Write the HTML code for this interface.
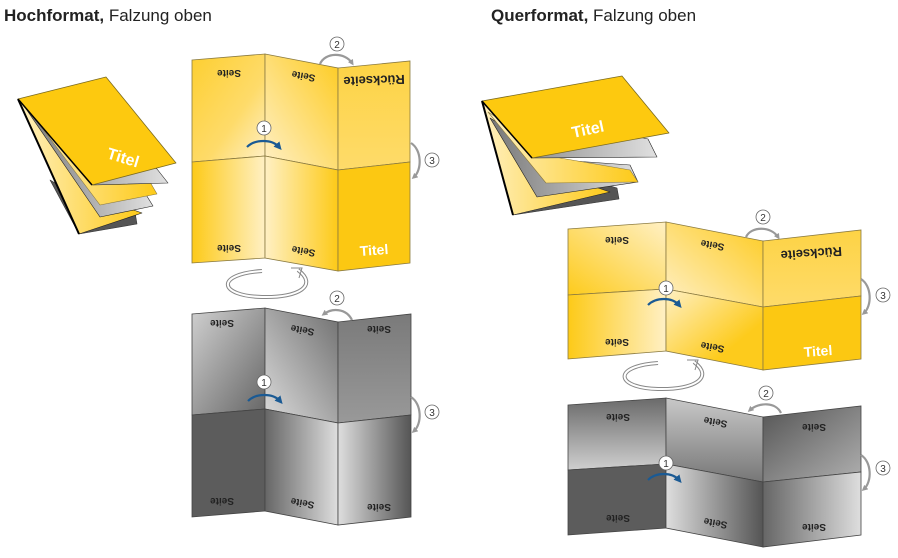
<!DOCTYPE html>
<html><head><meta charset="utf-8"><style>
html,body{margin:0;padding:0;background:#fff;}
svg{display:block;}
text{font-family:"Liberation Sans",sans-serif;}
.s{font-size:10px;font-weight:bold;fill:#222;}
.t{font-size:14px;font-weight:bold;fill:#fff;}
.tc{font-size:16px;font-weight:bold;fill:#fff;}
.r{font-size:13px;font-weight:bold;fill:#222;}
.n{font-size:10px;fill:#333;}
.pn{stroke:#8a7a40;stroke-width:0.8;}
.pg{stroke:#444;stroke-width:0.8;}
</style></head><body>
<svg width="898" height="558" viewBox="0 0 898 558" xmlns="http://www.w3.org/2000/svg">
<defs>
<marker id="ag" markerWidth="6" markerHeight="6" refX="3" refY="3" orient="auto" markerUnits="userSpaceOnUse"><path d="M0,0 L6,3 L0,6 z" fill="#999"/></marker>
<marker id="ab" markerWidth="8" markerHeight="8" refX="4" refY="4" orient="auto" markerUnits="userSpaceOnUse"><path d="M0,0 L8,4 L0,8 z" fill="#1a5a94"/></marker>
<linearGradient id="yR" x1="0" y1="0" x2="1" y2="0"><stop offset="0" stop-color="#fdca18"/><stop offset="1" stop-color="#fff0c4"/></linearGradient>
<linearGradient id="yL" x1="0" y1="0" x2="1" y2="0"><stop offset="0" stop-color="#fff0c4"/><stop offset="1" stop-color="#fdca18"/></linearGradient>
<linearGradient id="yTL" x1="0" y1="0" x2="1" y2="1"><stop offset="0" stop-color="#fdcf30"/><stop offset="0.6" stop-color="#fedb6a"/><stop offset="1" stop-color="#fff0c8"/></linearGradient>
<linearGradient id="yTM" x1="1" y1="0" x2="0" y2="1"><stop offset="0" stop-color="#fdcb20"/><stop offset="1" stop-color="#fff0c8"/></linearGradient>
<linearGradient id="yTR" x1="0" y1="0" x2="0" y2="1"><stop offset="0" stop-color="#fdd345"/><stop offset="1" stop-color="#fedb6a"/></linearGradient>
<linearGradient id="yD" x1="0" y1="1" x2="1" y2="0"><stop offset="0" stop-color="#fdcb1c"/><stop offset="1" stop-color="#fff0c4"/></linearGradient>
<linearGradient id="yD2" x1="0" y1="0" x2="1" y2="1"><stop offset="0" stop-color="#fff0c4"/><stop offset="0.7" stop-color="#fdcb1c"/></linearGradient>
<linearGradient id="gTL" x1="0" y1="0" x2="1" y2="1"><stop offset="0" stop-color="#d0d0d0"/><stop offset="1" stop-color="#666"/></linearGradient>
<linearGradient id="gTM" x1="1" y1="0" x2="0" y2="1"><stop offset="0" stop-color="#707070"/><stop offset="1" stop-color="#dcdcdc"/></linearGradient>
<linearGradient id="gTR" x1="0" y1="0" x2="0" y2="1"><stop offset="0" stop-color="#7a7a7a"/><stop offset="1" stop-color="#999"/></linearGradient>
<linearGradient id="gLR" x1="0" y1="0" x2="1" y2="0"><stop offset="0" stop-color="#666"/><stop offset="1" stop-color="#dedede"/></linearGradient>
<linearGradient id="gRL" x1="0" y1="0" x2="1" y2="0"><stop offset="0" stop-color="#dedede"/><stop offset="1" stop-color="#555"/></linearGradient>
<linearGradient id="gV" x1="0" y1="0" x2="0" y2="1"><stop offset="0" stop-color="#6a6a6a"/><stop offset="1" stop-color="#cfcfcf"/></linearGradient>
<linearGradient id="gV2" x1="0" y1="0" x2="0" y2="1"><stop offset="0" stop-color="#c8c8c8"/><stop offset="1" stop-color="#777"/></linearGradient>
<linearGradient id="gV3" x1="0" y1="0" x2="1" y2="1"><stop offset="0" stop-color="#555"/><stop offset="1" stop-color="#b0b0b0"/></linearGradient>
<linearGradient id="pg" x1="0" y1="0" x2="1" y2="0"><stop offset="0" stop-color="#777"/><stop offset="1" stop-color="#e0e0e0"/></linearGradient>
<linearGradient id="py" x1="0" y1="0" x2="1" y2="0"><stop offset="0" stop-color="#fff0c0"/><stop offset="1" stop-color="#fdca18"/></linearGradient>
</defs>

<text x="4" y="21" style="font-size:17px;fill:#222"><tspan font-weight="bold">Hochformat,</tspan> Falzung oben</text>
<text x="491" y="21" style="font-size:17px;fill:#222"><tspan font-weight="bold">Querformat,</tspan> Falzung oben</text>

<!-- left stack -->
<g stroke-linejoin="round">
<polygon points="50,180 79,234 137,224 135,212 110,215" fill="#555" stroke="#333" stroke-width="0.6"/>
<polygon points="18,99 79,234 142,213 100,198" fill="url(#py)" stroke="#222" stroke-width="0.6"/>
<polygon points="22,103 100,217 153,206 145,193 80,160" fill="url(#pg)" stroke="#222" stroke-width="0.6"/>
<polygon points="22,101 100,205 157,194 150,182 80,150" fill="url(#py)" stroke="#8a7a40" stroke-width="0.6"/>
<polygon points="20,100 93,185 168,183 157,169" fill="url(#pg)" stroke="#222" stroke-width="0.6"/>
<line x1="18" y1="99" x2="79" y2="234" stroke="#000" stroke-width="2"/>
<polygon points="18,99 106,77 176,163 92,185" fill="#fdc90f" stroke="#7a6a20" stroke-width="0.8"/>
<line x1="18" y1="99" x2="92" y2="185" stroke="#000" stroke-width="1.5"/>
<text class="tc" transform="translate(106,158) rotate(17)">Titel</text>
</g>

<!-- right stack -->
<g stroke-linejoin="round">
<polygon points="495,150 513,215 619,199 617,188" fill="#555" stroke="#333" stroke-width="0.6"/>
<polygon points="482,101 513,215 610,192 560,175" fill="url(#py)" stroke="#222" stroke-width="0.6"/>
<polygon points="490,118 537,197 638,182 630,165 560,160" fill="url(#pg)" stroke="#222" stroke-width="0.6"/>
<polygon points="488,112 546,183 638,182 630,170 560,158" fill="url(#py)" stroke="#8a7a40" stroke-width="0.6"/>
<polygon points="484,104 532,158 657,157 648,139" fill="url(#pg)" stroke="#222" stroke-width="0.6"/>
<line x1="482" y1="101" x2="513" y2="215" stroke="#000" stroke-width="2"/>
<polygon points="482,101 622,76 669,133 532,158" fill="#fdc90f" stroke="#7a6a20" stroke-width="0.8"/>
<line x1="482" y1="101" x2="532" y2="158" stroke="#000" stroke-width="1.5"/>
<text class="tc" transform="translate(573,138) rotate(-12)">Titel</text>
</g>

<!-- left yellow unfolded -->
<g class="pn">
<polygon points="192,60 265,54 265,156 192,162" fill="url(#yTL)"/>
<polygon points="265,54 338,68 338,170 265,156" fill="url(#yTM)"/>
<polygon points="338,68 410,61 410,162 338,170" fill="url(#yTR)"/>
<polygon points="192,162 265,156 265,258 192,263" fill="url(#yR)"/>
<polygon points="265,156 338,170 338,271 265,258" fill="url(#yL)"/>
<polygon points="338,170 410,162 410,263 338,271" fill="#fcc812"/>
</g>
<text class="s" transform="translate(229,70) rotate(180)" text-anchor="middle">Seite</text>
<text class="s" transform="translate(304,73) rotate(190)" text-anchor="middle">Seite</text>
<text class="r" transform="translate(374,76) rotate(178)" text-anchor="middle">Rückseite</text>
<text class="s" transform="translate(229,245) rotate(180)" text-anchor="middle">Seite</text>
<text class="s" transform="translate(304,248) rotate(190)" text-anchor="middle">Seite</text>
<text class="t" x="374" y="255" text-anchor="middle" transform="rotate(-4 374 250)">Titel</text>

<!-- left gray -->
<g class="pg">
<polygon points="192,314 265,308 265,409 192,415" fill="url(#gTL)"/>
<polygon points="265,308 338,322 338,423 265,409" fill="url(#gTM)"/>
<polygon points="338,322 411,314 411,415 338,423" fill="url(#gTR)"/>
<polygon points="192,415 265,409 265,511 192,517" fill="#5c5c5c"/>
<polygon points="265,409 338,423 338,525 265,511" fill="url(#gLR)"/>
<polygon points="338,423 411,415 411,517 338,525" fill="url(#gRL)"/>
</g>
<text class="s" transform="translate(222,320) rotate(180)" text-anchor="middle">Seite</text>
<text class="s" transform="translate(303,327) rotate(190)" text-anchor="middle">Seite</text>
<text class="s" transform="translate(379,326) rotate(180)" text-anchor="middle">Seite</text>
<text class="s" transform="translate(222,498) rotate(180)" text-anchor="middle">Seite</text>
<text class="s" transform="translate(303,500) rotate(190)" text-anchor="middle">Seite</text>
<text class="s" transform="translate(379,504) rotate(180)" text-anchor="middle">Seite</text>

<!-- right yellow -->
<g class="pn">
<polygon points="568,229 666,222 666,289 568,295" fill="url(#yD)"/>
<polygon points="666,222 763,241 763,307 666,289" fill="url(#yTM)"/>
<polygon points="763,241 861,230 861,296 763,307" fill="url(#yTR)"/>
<polygon points="568,295 666,289 666,351 568,359" fill="url(#yR)"/>
<polygon points="666,289 763,307 763,370 666,351" fill="url(#yD2)"/>
<polygon points="763,307 861,296 861,359 763,370" fill="#fcc812"/>
</g>
<text class="s" transform="translate(617,237) rotate(180)" text-anchor="middle">Seite</text>
<text class="s" transform="translate(713,242) rotate(190)" text-anchor="middle">Seite</text>
<text class="r" transform="translate(811,249) rotate(176)" text-anchor="middle">Rückseite</text>
<text class="s" transform="translate(617,339) rotate(180)" text-anchor="middle">Seite</text>
<text class="s" transform="translate(713,344) rotate(190)" text-anchor="middle">Seite</text>
<text class="t" x="818" y="356" text-anchor="middle" transform="rotate(-4 818 351)">Titel</text>

<!-- right gray -->
<g class="pg">
<polygon points="568,405 666,398 666,464 568,470" fill="url(#gV)"/>
<polygon points="666,398 763,417 763,482 666,464" fill="url(#gV2)"/>
<polygon points="763,417 861,406 861,472 763,482" fill="url(#gV3)"/>
<polygon points="568,470 666,464 666,528 568,535" fill="#5c5c5c"/>
<polygon points="666,464 763,482 763,547 666,528" fill="url(#gRL)"/>
<polygon points="763,482 861,472 861,535 763,547" fill="url(#gLR)"/>
</g>
<text class="s" transform="translate(618,414) rotate(180)" text-anchor="middle">Seite</text>
<text class="s" transform="translate(716,419) rotate(190)" text-anchor="middle">Seite</text>
<text class="s" transform="translate(814,424) rotate(180)" text-anchor="middle">Seite</text>
<text class="s" transform="translate(618,515) rotate(180)" text-anchor="middle">Seite</text>
<text class="s" transform="translate(716,520) rotate(190)" text-anchor="middle">Seite</text>
<text class="s" transform="translate(814,524) rotate(180)" text-anchor="middle">Seite</text>

<!-- rotation arrows -->
<g fill="none">
<path d="M262,271 C215,274 218,296 262,297 C300,298 318,285 298,270" stroke="#888" stroke-width="4"/>
<path d="M262,271 C215,274 218,296 262,297 C300,298 318,285 298,270" stroke="#fff" stroke-width="2"/>
<path d="M291,268 L302,268 L299,278" stroke="#888" stroke-width="1"/>
<path d="M658,363 C612,366 615,388 658,389 C696,390 714,377 694,362" stroke="#888" stroke-width="4"/>
<path d="M658,363 C612,366 615,388 658,389 C696,390 714,377 694,362" stroke="#fff" stroke-width="2"/>
<path d="M687,360 L698,360 L695,370" stroke="#888" stroke-width="1"/>
</g>

<!-- gray step arrows -->
<g fill="none" stroke="#999" stroke-width="2.2">
<path d="M320,64 C325,52 345,52 352,63" marker-end="url(#ag)"/>
<path d="M411,143 C422,150 422,170 414,177" marker-end="url(#ag)"/>
<path d="M352,320 C346,308 332,308 324,314" marker-end="url(#ag)"/>
<path d="M411,397 C422,404 422,424 414,431" marker-end="url(#ag)"/>
<path d="M746,237 C751,226 771,226 778,237" marker-end="url(#ag)"/>
<path d="M861,279 C872,286 872,306 864,313" marker-end="url(#ag)"/>
<path d="M781,413 C776,402 759,402 750,410" marker-end="url(#ag)"/>
<path d="M861,455 C872,462 872,482 864,489" marker-end="url(#ag)"/>
</g>
<!-- blue arrows -->
<g fill="none" stroke="#1a5a94" stroke-width="2.2">
<path d="M247,147 C255,139 272,139 279,147" marker-end="url(#ab)"/>
<path d="M248,401 C256,393 273,393 280,401" marker-end="url(#ab)"/>
<path d="M648,305 C656,297 672,297 679,305" marker-end="url(#ab)"/>
<path d="M648,480 C656,472 672,472 679,480" marker-end="url(#ab)"/>
</g>
<!-- number circles -->
<g fill="#fff" stroke="#666" stroke-width="0.8">
<circle cx="264" cy="128" r="7"/><circle cx="337" cy="44" r="7"/><circle cx="432" cy="160" r="7"/>
<circle cx="264" cy="382" r="7"/><circle cx="337" cy="298" r="7"/><circle cx="432" cy="412" r="7"/>
<circle cx="666" cy="288" r="7"/><circle cx="763" cy="217" r="7"/><circle cx="883" cy="295" r="7"/>
<circle cx="666" cy="463" r="7"/><circle cx="766" cy="393" r="7"/><circle cx="883" cy="468" r="7"/>
</g>
<g class="n" text-anchor="middle">
<text x="264" y="132">1</text><text x="337" y="48">2</text><text x="432" y="164">3</text>
<text x="264" y="386">1</text><text x="337" y="302">2</text><text x="432" y="416">3</text>
<text x="666" y="292">1</text><text x="763" y="221">2</text><text x="883" y="299">3</text>
<text x="666" y="467">1</text><text x="766" y="397">2</text><text x="883" y="472">3</text>
</g>
</svg>
</body></html>
